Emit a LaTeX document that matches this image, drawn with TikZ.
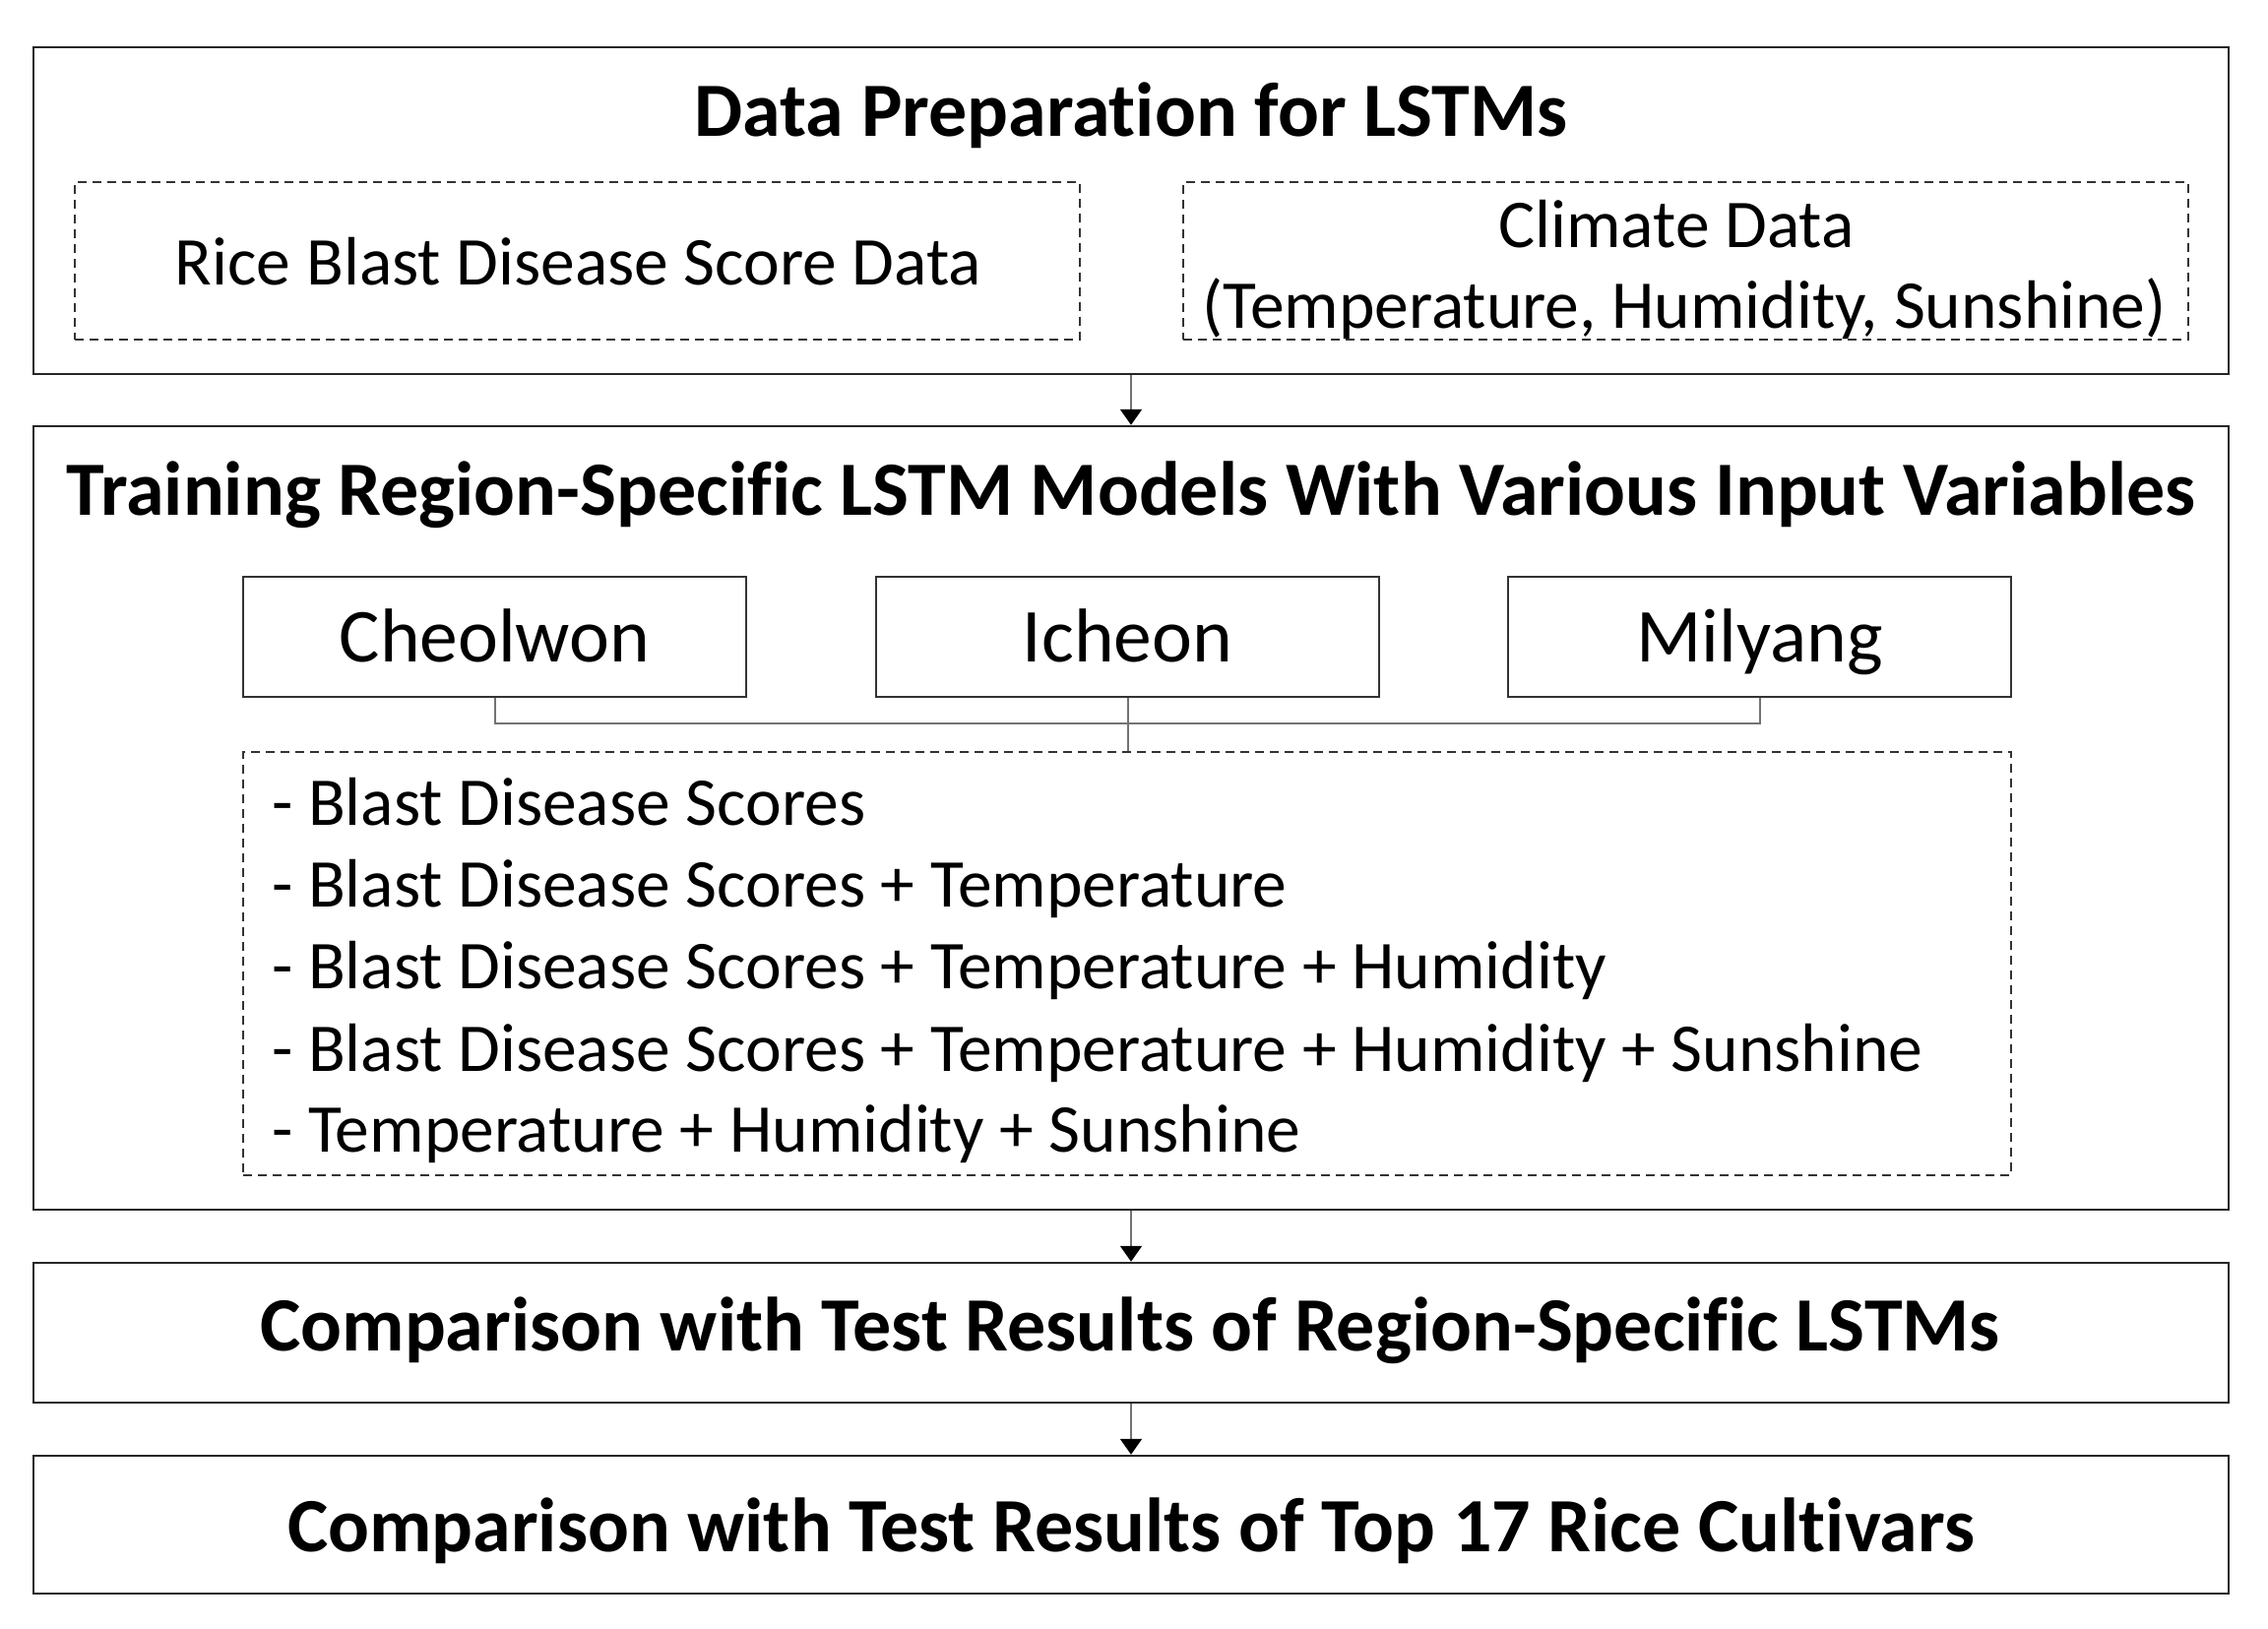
\documentclass[tikz,border=0pt]{standalone}
\usepackage{fontspec}
\setmainfont{Carlito}[Ligatures=NoCommon]
\usetikzlibrary{arrows.meta}
\begin{document}
\begin{tikzpicture}[x=1pt,y=-1pt,
  bigbox/.style={draw=black!85,line width=2.5pt,minimum width=2230pt,inner sep=0pt},
  dbox/.style={draw=black!80,line width=2pt,dash pattern=on 9pt off 6pt,inner sep=0pt},
  region/.style={draw=black!80,line width=2.5pt,minimum width=511pt,minimum height=122pt,inner sep=0pt,text height=51pt,text depth=0pt,font=\fontsize{77.5}{90}\selectfont},
  ttl/.style={font=\bfseries\fontsize{78}{90}\selectfont,inner sep=0pt,text height=51.5pt,text depth=0pt},
  txt/.style={font=\fontsize{69.5}{80}\selectfont,inner sep=0pt,text height=46pt,text depth=0pt},
  conn/.style={draw=black!55,line width=2pt},
  arr/.style={draw=black!55,line width=2pt,-{Triangle[black,width=22pt,length=16pt]}}]
\useasboundingbox (0,0) rectangle (2304,1654);
\node[bigbox,minimum height=332pt] (b1) at (1149,214) {};
\node[bigbox,minimum height=796pt] (b2) at (1149,831) {};
\node[bigbox,minimum height=142pt] (b3) at (1149,1354) {};
\node[bigbox,minimum height=140pt] (b4) at (1149,1549) {};
\node[ttl] (t1) at (1149,113) {Data Preparation for LSTMs};
\node[dbox,minimum width=1021pt,minimum height=160pt] (dl) at (586.5,265) {};
\node[dbox,minimum width=1021pt,minimum height=160pt] (dr) at (1712.5,265) {};
\node[txt] (tl) at (587.5,266) {Rice Blast Disease Score Data};
\node[txt] (tr1) at (1703,228) {Climate Data};
\node[txt] (tr2) at (1711,310) {(Temperature, Humidity, Sunshine)};
\node[ttl] (t2) at (1149,498) {Training Region-Specific LSTM Models With Various Input Variables};
\node[region] (c) at (502.5,647) {Cheolwon};
\node[region] (i) at (1145.5,647) {Icheon};
\node[region] (m) at (1787.5,647) {Milyang};
\node[dbox,minimum width=1796pt,minimum height=430pt] (lst) at (1145,979) {};
\node[txt,anchor=west] (l1) at (276,815) {- Blast Disease Scores};
\node[txt,anchor=west] (l2) at (276,898) {- Blast Disease Scores + Temperature};
\node[txt,anchor=west] (l3) at (276,981) {- Blast Disease Scores + Temperature + Humidity};
\node[txt,anchor=west] (l4) at (276,1065) {- Blast Disease Scores + Temperature + Humidity + Sunshine};
\node[txt,anchor=west] (l5) at (276,1147) {- Temperature + Humidity + Sunshine};
\node[ttl] (t3) at (1148,1347) {Comparison with Test Results of Region-Specific LSTMs};
\node[ttl] (t4) at (1149,1551) {Comparison with Test Results of Top 17 Rice Cultivars};
\coordinate (hc) at (c.south |- 0,735);
\coordinate (hm) at (m.south |- 0,735);
\draw[conn] (c.south) -- (hc) -- (hm) -- (m.south);
\draw[conn] (i.south) -- (lst.north -| i.south);
\draw[arr] (b1.south) -- (b2.north);
\draw[arr] (b2.south) -- (b3.north);
\draw[arr] (b3.south) -- (b4.north);
\end{tikzpicture}
\end{document}
